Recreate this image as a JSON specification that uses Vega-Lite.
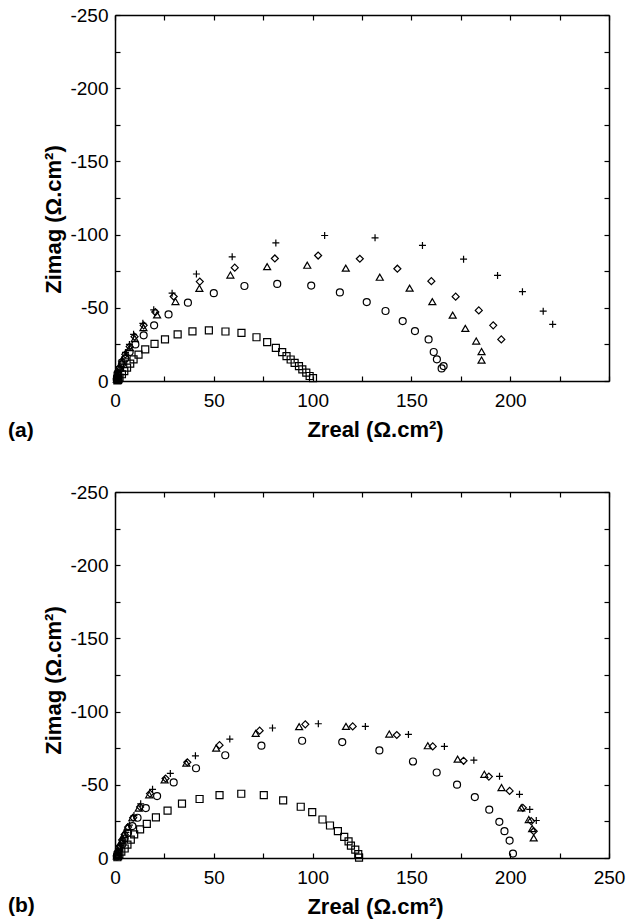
{
  "$schema": "https://vega.github.io/schema/vega-lite/v6.json",
  "background": "white",
  "padding": {"left": 7, "top": 6, "right": 2, "bottom": 5},
  "spacing": 42,
  "config": {
    "font": "Liberation Sans",
    "view": {"stroke": null},
    "axis": {
      "grid": false,
      "domainColor": "black",
      "domainWidth": 1.5,
      "tickColor": "black",
      "tickWidth": 1.2,
      "tickSize": -5,
      "labelFont": "Liberation Sans",
      "labelFontSize": 19,
      "labelColor": "black",
      "labelPadding": 12,
      "labelFlush": false,
      "labelOverlap": false,
      "titleFont": "Liberation Sans",
      "titleFontSize": 22,
      "titleFontWeight": "bold",
      "titleColor": "black"
    },
    "axisX": {"labelPadding": 15, "titlePadding": 9},
    "axisY": {"titlePadding": 4},
    "title": {"font": "Liberation Sans", "fontSize": 21, "fontWeight": "bold", "color": "black"}
  },
  "datasets": {
    "a": [
      {"s": "sq", "x": 1.2, "y": -0.4}, {"s": "sq", "x": 1.5, "y": -0.8}, {"s": "sq", "x": 1.8, "y": -1.2}, {"s": "sq", "x": 2.3, "y": -2.3}, {"s": "sq", "x": 3.5, "y": -4.6}, {"s": "sq", "x": 4.7, "y": -6.8}, {"s": "sq", "x": 6.1, "y": -9.1}, {"s": "sq", "x": 7.7, "y": -11.9}, {"s": "sq", "x": 9.4, "y": -14.8}, {"s": "sq", "x": 11.9, "y": -18.0}, {"s": "sq", "x": 15.3, "y": -21.6}, {"s": "sq", "x": 20.0, "y": -25.3}, {"s": "sq", "x": 25.3, "y": -28.4}, {"s": "sq", "x": 31.7, "y": -31.8}, {"s": "sq", "x": 39.2, "y": -33.9}, {"s": "sq", "x": 47.5, "y": -34.6}, {"s": "sq", "x": 55.9, "y": -33.8}, {"s": "sq", "x": 64.0, "y": -32.9}, {"s": "sq", "x": 71.6, "y": -29.9}, {"s": "sq", "x": 77.0, "y": -26.5}, {"s": "sq", "x": 81.4, "y": -22.6}, {"s": "sq", "x": 84.6, "y": -19.7}, {"s": "sq", "x": 86.8, "y": -17.0}, {"s": "sq", "x": 88.9, "y": -14.7}, {"s": "sq", "x": 90.9, "y": -12.4}, {"s": "sq", "x": 93.1, "y": -10.2}, {"s": "sq", "x": 94.8, "y": -7.9}, {"s": "sq", "x": 96.8, "y": -5.7}, {"s": "sq", "x": 98.5, "y": -3.4}, {"s": "sq", "x": 100.2, "y": -2.0},
      {"s": "ci", "x": 0.9, "y": -1.0}, {"s": "ci", "x": 1.0, "y": -2.6}, {"s": "ci", "x": 1.3, "y": -5.3}, {"s": "ci", "x": 2.2, "y": -8.0}, {"s": "ci", "x": 3.5, "y": -11.4}, {"s": "ci", "x": 5.2, "y": -15.3}, {"s": "ci", "x": 7.4, "y": -19.8}, {"s": "ci", "x": 10.3, "y": -25.0}, {"s": "ci", "x": 14.5, "y": -31.2}, {"s": "ci", "x": 19.8, "y": -38.0}, {"s": "ci", "x": 27.1, "y": -45.5}, {"s": "ci", "x": 36.9, "y": -53.5}, {"s": "ci", "x": 50.0, "y": -60.0}, {"s": "ci", "x": 65.5, "y": -64.9}, {"s": "ci", "x": 82.1, "y": -66.3}, {"s": "ci", "x": 99.3, "y": -65.2}, {"s": "ci", "x": 113.8, "y": -60.5}, {"s": "ci", "x": 127.4, "y": -53.9}, {"s": "ci", "x": 136.9, "y": -47.8}, {"s": "ci", "x": 145.6, "y": -40.9}, {"s": "ci", "x": 151.8, "y": -34.1}, {"s": "ci", "x": 158.7, "y": -28.4}, {"s": "ci", "x": 161.3, "y": -19.8}, {"s": "ci", "x": 162.9, "y": -14.8}, {"s": "ci", "x": 166.3, "y": -10.2}, {"s": "ci", "x": 165.3, "y": -8.6},
      {"s": "di", "x": 0.9, "y": -1.5}, {"s": "di", "x": 1.1, "y": -3.2}, {"s": "di", "x": 1.5, "y": -5.7}, {"s": "di", "x": 2.3, "y": -9.1}, {"s": "di", "x": 3.5, "y": -13.6}, {"s": "di", "x": 5.2, "y": -18.2}, {"s": "di", "x": 7.4, "y": -23.5}, {"s": "di", "x": 9.9, "y": -30.3}, {"s": "di", "x": 14.5, "y": -38.0}, {"s": "di", "x": 20.4, "y": -47.1}, {"s": "di", "x": 29.7, "y": -57.7}, {"s": "di", "x": 42.9, "y": -67.9}, {"s": "di", "x": 60.6, "y": -77.4}, {"s": "di", "x": 80.9, "y": -83.7}, {"s": "di", "x": 102.8, "y": -85.7}, {"s": "di", "x": 123.9, "y": -83.5}, {"s": "di", "x": 142.9, "y": -76.7}, {"s": "di", "x": 160.1, "y": -68.2}, {"s": "di", "x": 172.4, "y": -57.6}, {"s": "di", "x": 184.1, "y": -48.2}, {"s": "di", "x": 191.4, "y": -38.0}, {"s": "di", "x": 195.5, "y": -28.4},
      {"s": "tr", "x": 0.9, "y": -1.3}, {"s": "tr", "x": 1.1, "y": -3.0}, {"s": "tr", "x": 1.5, "y": -5.5}, {"s": "tr", "x": 2.3, "y": -8.8}, {"s": "tr", "x": 3.5, "y": -13.0}, {"s": "tr", "x": 5.3, "y": -17.6}, {"s": "tr", "x": 7.5, "y": -22.8}, {"s": "tr", "x": 10.0, "y": -29.0}, {"s": "tr", "x": 14.4, "y": -36.5}, {"s": "tr", "x": 21.3, "y": -45.2}, {"s": "tr", "x": 30.6, "y": -54.3}, {"s": "tr", "x": 42.7, "y": -63.3}, {"s": "tr", "x": 58.4, "y": -72.4}, {"s": "tr", "x": 77.0, "y": -78.1}, {"s": "tr", "x": 97.3, "y": -79.1}, {"s": "tr", "x": 116.8, "y": -77.1}, {"s": "tr", "x": 134.0, "y": -70.9}, {"s": "tr", "x": 149.1, "y": -63.4}, {"s": "tr", "x": 160.6, "y": -54.2}, {"s": "tr", "x": 170.9, "y": -45.0}, {"s": "tr", "x": 177.3, "y": -35.9}, {"s": "tr", "x": 182.8, "y": -27.3}, {"s": "tr", "x": 185.5, "y": -20.1}, {"s": "tr", "x": 185.5, "y": -14.3},
      {"s": "pl", "x": 0.9, "y": -1.6}, {"s": "pl", "x": 1.1, "y": -3.5}, {"s": "pl", "x": 1.6, "y": -6.2}, {"s": "pl", "x": 2.4, "y": -9.8}, {"s": "pl", "x": 3.6, "y": -14.5}, {"s": "pl", "x": 5.3, "y": -19.5}, {"s": "pl", "x": 7.3, "y": -25.0}, {"s": "pl", "x": 9.4, "y": -31.9}, {"s": "pl", "x": 14.1, "y": -39.4}, {"s": "pl", "x": 19.6, "y": -48.6}, {"s": "pl", "x": 28.9, "y": -60.0}, {"s": "pl", "x": 41.2, "y": -73.1}, {"s": "pl", "x": 59.3, "y": -84.8}, {"s": "pl", "x": 81.4, "y": -94.3}, {"s": "pl", "x": 106.1, "y": -99.4}, {"s": "pl", "x": 131.6, "y": -97.8}, {"s": "pl", "x": 155.6, "y": -92.6}, {"s": "pl", "x": 176.4, "y": -83.2}, {"s": "pl", "x": 193.6, "y": -72.1}, {"s": "pl", "x": 206.2, "y": -61.0}, {"s": "pl", "x": 216.7, "y": -47.7}, {"s": "pl", "x": 221.5, "y": -38.7}
    ],
    "b": [
      {"s": "sq", "x": 1.2, "y": -0.5}, {"s": "sq", "x": 1.6, "y": -1.2}, {"s": "sq", "x": 2.2, "y": -2.5}, {"s": "sq", "x": 3.2, "y": -4.3}, {"s": "sq", "x": 4.9, "y": -6.5}, {"s": "sq", "x": 6.3, "y": -9.2}, {"s": "sq", "x": 8.0, "y": -12.6}, {"s": "sq", "x": 9.7, "y": -16.1}, {"s": "sq", "x": 12.7, "y": -19.5}, {"s": "sq", "x": 16.1, "y": -23.3}, {"s": "sq", "x": 20.7, "y": -27.7}, {"s": "sq", "x": 26.6, "y": -32.3}, {"s": "sq", "x": 33.9, "y": -37.1}, {"s": "sq", "x": 42.8, "y": -40.3}, {"s": "sq", "x": 52.9, "y": -43.0}, {"s": "sq", "x": 63.9, "y": -43.9}, {"s": "sq", "x": 75.3, "y": -43.0}, {"s": "sq", "x": 85.1, "y": -39.4}, {"s": "sq", "x": 94.0, "y": -35.0}, {"s": "sq", "x": 99.8, "y": -31.4}, {"s": "sq", "x": 105.0, "y": -26.3}, {"s": "sq", "x": 108.8, "y": -22.2}, {"s": "sq", "x": 112.8, "y": -18.3}, {"s": "sq", "x": 116.0, "y": -14.4}, {"s": "sq", "x": 118.2, "y": -11.4}, {"s": "sq", "x": 119.4, "y": -8.5}, {"s": "sq", "x": 121.6, "y": -5.7}, {"s": "sq", "x": 123.1, "y": -2.7}, {"s": "sq", "x": 123.5, "y": -0.3},
      {"s": "ci", "x": 0.9, "y": -1.0}, {"s": "ci", "x": 1.2, "y": -3.0}, {"s": "ci", "x": 2.0, "y": -6.0}, {"s": "ci", "x": 3.8, "y": -9.6}, {"s": "ci", "x": 4.9, "y": -13.3}, {"s": "ci", "x": 6.6, "y": -17.2}, {"s": "ci", "x": 8.8, "y": -21.8}, {"s": "ci", "x": 11.4, "y": -27.5}, {"s": "ci", "x": 15.6, "y": -34.1}, {"s": "ci", "x": 21.3, "y": -42.3}, {"s": "ci", "x": 29.7, "y": -51.6}, {"s": "ci", "x": 41.0, "y": -61.3}, {"s": "ci", "x": 55.8, "y": -70.2}, {"s": "ci", "x": 74.1, "y": -76.7}, {"s": "ci", "x": 94.7, "y": -80.1}, {"s": "ci", "x": 115.0, "y": -79.2}, {"s": "ci", "x": 133.8, "y": -73.5}, {"s": "ci", "x": 150.8, "y": -65.9}, {"s": "ci", "x": 162.8, "y": -58.4}, {"s": "ci", "x": 173.1, "y": -50.1}, {"s": "ci", "x": 182.1, "y": -41.6}, {"s": "ci", "x": 189.4, "y": -33.0}, {"s": "ci", "x": 194.5, "y": -24.7}, {"s": "ci", "x": 197.1, "y": -18.3}, {"s": "ci", "x": 199.7, "y": -11.9}, {"s": "ci", "x": 201.4, "y": -3.0},
      {"s": "tr", "x": 0.9, "y": -1.5}, {"s": "tr", "x": 1.3, "y": -4.0}, {"s": "tr", "x": 2.2, "y": -7.8}, {"s": "tr", "x": 3.4, "y": -11.9}, {"s": "tr", "x": 4.6, "y": -16.1}, {"s": "tr", "x": 6.3, "y": -21.1}, {"s": "tr", "x": 8.8, "y": -27.5}, {"s": "tr", "x": 12.0, "y": -34.1}, {"s": "tr", "x": 17.3, "y": -43.2}, {"s": "tr", "x": 25.1, "y": -53.4}, {"s": "tr", "x": 36.1, "y": -64.8}, {"s": "tr", "x": 51.2, "y": -75.1}, {"s": "tr", "x": 71.2, "y": -85.1}, {"s": "tr", "x": 93.2, "y": -89.7}, {"s": "tr", "x": 116.9, "y": -89.9}, {"s": "tr", "x": 138.8, "y": -84.7}, {"s": "tr", "x": 158.3, "y": -76.7}, {"s": "tr", "x": 173.4, "y": -67.5}, {"s": "tr", "x": 186.9, "y": -57.2}, {"s": "tr", "x": 195.6, "y": -48.1}, {"s": "tr", "x": 205.6, "y": -34.3}, {"s": "tr", "x": 209.4, "y": -26.3}, {"s": "tr", "x": 211.1, "y": -20.1}, {"s": "tr", "x": 211.9, "y": -13.7},
      {"s": "di", "x": 1.0, "y": -1.7}, {"s": "di", "x": 1.5, "y": -4.3}, {"s": "di", "x": 2.4, "y": -8.2}, {"s": "di", "x": 3.6, "y": -12.3}, {"s": "di", "x": 4.9, "y": -16.1}, {"s": "di", "x": 6.6, "y": -21.1}, {"s": "di", "x": 9.2, "y": -27.5}, {"s": "di", "x": 12.7, "y": -34.9}, {"s": "di", "x": 17.7, "y": -44.0}, {"s": "di", "x": 25.6, "y": -54.3}, {"s": "di", "x": 36.6, "y": -65.4}, {"s": "di", "x": 52.9, "y": -77.1}, {"s": "di", "x": 73.2, "y": -87.0}, {"s": "di", "x": 96.3, "y": -91.3}, {"s": "di", "x": 120.3, "y": -89.9}, {"s": "di", "x": 142.6, "y": -84.0}, {"s": "di", "x": 160.8, "y": -76.2}, {"s": "di", "x": 176.4, "y": -66.4}, {"s": "di", "x": 189.2, "y": -55.6}, {"s": "di", "x": 199.7, "y": -45.8}, {"s": "di", "x": 206.4, "y": -34.3}, {"s": "di", "x": 210.6, "y": -25.2}, {"s": "di", "x": 211.9, "y": -18.3},
      {"s": "pl", "x": 1.1, "y": -2.0}, {"s": "pl", "x": 1.7, "y": -4.8}, {"s": "pl", "x": 2.7, "y": -8.8}, {"s": "pl", "x": 4.0, "y": -13.0}, {"s": "pl", "x": 5.5, "y": -17.5}, {"s": "pl", "x": 7.3, "y": -22.5}, {"s": "pl", "x": 9.6, "y": -29.0}, {"s": "pl", "x": 13.0, "y": -37.0}, {"s": "pl", "x": 19.0, "y": -46.9}, {"s": "pl", "x": 28.0, "y": -57.8}, {"s": "pl", "x": 40.7, "y": -69.8}, {"s": "pl", "x": 58.1, "y": -81.2}, {"s": "pl", "x": 79.7, "y": -88.8}, {"s": "pl", "x": 102.9, "y": -91.7}, {"s": "pl", "x": 126.7, "y": -89.9}, {"s": "pl", "x": 148.5, "y": -84.4}, {"s": "pl", "x": 166.7, "y": -76.2}, {"s": "pl", "x": 181.6, "y": -66.8}, {"s": "pl", "x": 194.6, "y": -55.8}, {"s": "pl", "x": 204.7, "y": -43.5}, {"s": "pl", "x": 209.9, "y": -33.2}, {"s": "pl", "x": 213.2, "y": -25.6}
    ]
  },
  "vconcat": [
    {
      "width": 494,
      "height": 366,
      "title": {"text": "(a)", "orient": "bottom", "anchor": "start", "frame": "bounds", "offset": -20, "dx": -35},
      "data": {"name": "a"},
      "layer": [
        {
          "mark": {"type": "point", "filled": false, "color": "black", "strokeWidth": 1.2, "opacity": 1},
          "encoding": {
            "x": {"field": "x", "type": "quantitative", "scale": {"domain": [0, 250], "nice": false, "zero": false},
              "axis": {"orient": "bottom", "values": [0, 25, 50, 75, 100, 125, 150, 175, 200, 225, 250], "labelExpr": "datum.value % 50 == 0 && datum.value < 250 ? datum.label : ''", "title": "Zreal (Ω.cm²)", "titleX": 260}},
            "y": {"field": "y", "type": "quantitative", "scale": {"domain": [-250, 0], "nice": false, "zero": false, "reverse": true},
              "axis": {"orient": "left", "values": [-250, -225, -200, -175, -150, -125, -100, -75, -50, -25, 0], "labelExpr": "datum.value % 50 == 0 ? (datum.value < 0 ? '-' + abs(datum.value) : '0') : ''", "title": "Zimag (Ω.cm²)", "titleY": 204}},
            "shape": {"field": "s", "type": "nominal", "scale": {"domain": ["sq", "ci", "tr", "di", "pl"], "range": ["square", "circle", "triangle-up", "diamond", "M-1,0L1,0M0,-1L0,1"]}, "legend": null},
            "size": {"field": "s", "type": "ordinal", "scale": {"domain": ["sq", "ci", "tr", "di", "pl"], "range": [49, 49, 64, 72, 64]}, "legend": null}
          }
        },
        {
          "mark": {"type": "point", "opacity": 0},
          "encoding": {
            "x": {"field": "x", "type": "quantitative", "axis": {"orient": "top", "values": [0, 25, 50, 75, 100, 125, 150, 175, 200, 225, 250], "labels": false, "title": null}},
            "y": {"field": "y", "type": "quantitative", "axis": {"orient": "right", "values": [-250, -225, -200, -175, -150, -125, -100, -75, -50, -25, 0], "labels": false, "title": null}}
          }
        }
      ],
      "resolve": {"axis": {"x": "independent", "y": "independent"}}
    },
    {
      "width": 494,
      "height": 366,
      "title": {"text": "(b)", "orient": "bottom", "anchor": "start", "frame": "bounds", "offset": -22, "dx": -35},
      "data": {"name": "b"},
      "layer": [
        {
          "mark": {"type": "point", "filled": false, "color": "black", "strokeWidth": 1.2, "opacity": 1},
          "encoding": {
            "x": {"field": "x", "type": "quantitative", "scale": {"domain": [0, 250], "nice": false, "zero": false},
              "axis": {"orient": "bottom", "values": [0, 25, 50, 75, 100, 125, 150, 175, 200, 225, 250], "labelExpr": "datum.value % 50 == 0 ? datum.label : ''", "title": "Zreal (Ω.cm²)", "titleX": 260}},
            "y": {"field": "y", "type": "quantitative", "scale": {"domain": [-250, 0], "nice": false, "zero": false, "reverse": true},
              "axis": {"orient": "left", "values": [-250, -225, -200, -175, -150, -125, -100, -75, -50, -25, 0], "labelExpr": "datum.value % 50 == 0 ? (datum.value < 0 ? '-' + abs(datum.value) : '0') : ''", "title": "Zimag (Ω.cm²)", "titleY": 188}},
            "shape": {"field": "s", "type": "nominal", "scale": {"domain": ["sq", "ci", "tr", "di", "pl"], "range": ["square", "circle", "triangle-up", "diamond", "M-1,0L1,0M0,-1L0,1"]}, "legend": null},
            "size": {"field": "s", "type": "ordinal", "scale": {"domain": ["sq", "ci", "tr", "di", "pl"], "range": [49, 49, 64, 72, 64]}, "legend": null}
          }
        },
        {
          "mark": {"type": "point", "opacity": 0},
          "encoding": {
            "x": {"field": "x", "type": "quantitative", "axis": {"orient": "top", "values": [0, 25, 50, 75, 100, 125, 150, 175, 200, 225, 250], "labels": false, "title": null}},
            "y": {"field": "y", "type": "quantitative", "axis": {"orient": "right", "values": [-250, -225, -200, -175, -150, -125, -100, -75, -50, -25, 0], "labels": false, "title": null}}
          }
        }
      ],
      "resolve": {"axis": {"x": "independent", "y": "independent"}}
    }
  ]
}
